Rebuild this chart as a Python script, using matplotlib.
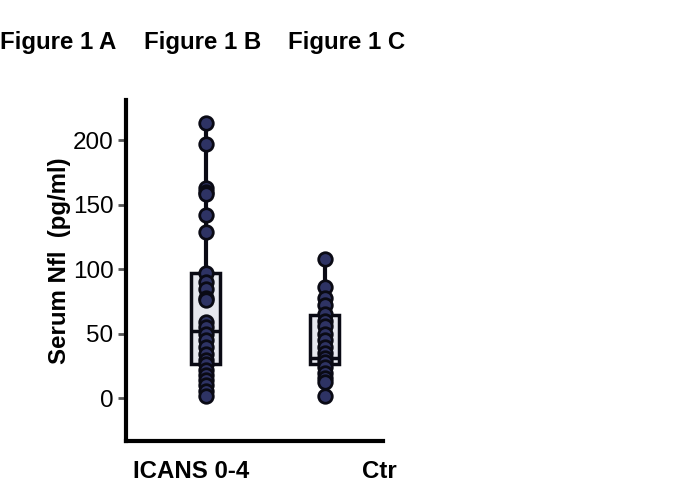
import matplotlib
matplotlib.use("Agg")
import matplotlib.pyplot as plt

plt.rcParams["font.family"] = ["Liberation Sans", "DejaVu Sans"]

groups = ["ICANS 0-4", "Ctr"]
icans = [213, 197, 163, 160, 158, 142, 129, 97, 90, 85, 78, 76, 59, 55, 50,
         45, 40, 34, 30, 27, 22, 18, 14, 10, 6, 2]
ctr = [108, 86, 78, 72, 65, 60, 56, 50, 45, 40, 35, 31, 28, 24, 20, 16, 13, 2]
q1 = [26.4, 26.4]
med = [51.9, 31.0]
q3 = [96.9, 64.3]
buttons = ["Figure 1 A", "Figure 1 B", "Figure 1 C"]

fig = plt.figure(figsize=(7, 5), dpi=100)
ax = fig.add_axes([0.18, 0.118, 0.367, 0.682])

pos = [0, 1]
values = [icans, ctr]
stats = []
for i, v in enumerate(values):
    stats.append({"med": med[i], "q1": q1[i], "q3": q3[i],
                  "whislo": min(v), "whishi": max(v), "fliers": []})

ax.bxp(stats, positions=pos, widths=0.24, patch_artist=True, showcaps=False,
       boxprops=dict(facecolor="#e6e7ee", edgecolor="#0a0a14", linewidth=2.5),
       medianprops=dict(color="#0a0a14", linewidth=2.5),
       whiskerprops=dict(color="#0a0a14", linewidth=3))

for p, v in zip(pos, values):
    ax.scatter([p] * len(v), v, s=95, color="#2e3364", edgecolor="#0a0a14",
               linewidth=2, zorder=5)

ax.set_xlim(-0.67, 1.49)
ax.set_ylim(-33, 231)
ax.set_yticks([0, 50, 100, 150, 200])
ax.set_xticks([])
ax.tick_params(axis="y", length=6, width=2, color="#555555", labelsize=17.5, pad=3)
for s in ["top", "right"]:
    ax.spines[s].set_visible(False)
for s in ["left", "bottom"]:
    ax.spines[s].set_linewidth(3)
    ax.spines[s].set_color("black")
ax.set_ylabel("Serum Nfl  (pg/ml)", fontsize=17.3, fontweight="bold")
ax.yaxis.set_label_coords(-0.26, 0.53)
ax.yaxis.label.set_va("center")

ax.text(-0.12, -0.09, groups[0], transform=ax.get_xaxis_transform(),
        ha="center", va="center", fontsize=17.3, fontweight="bold")
ax.text(1.46, -0.09, groups[1], transform=ax.get_xaxis_transform(),
        ha="center", va="center", fontsize=17.3, fontweight="bold")

for x, b in zip([0.0, 0.206, 0.411], buttons):
    fig.text(x, 0.916, b, ha="left", va="center", fontsize=17.3, fontweight="bold")

fig.savefig("out.png")
